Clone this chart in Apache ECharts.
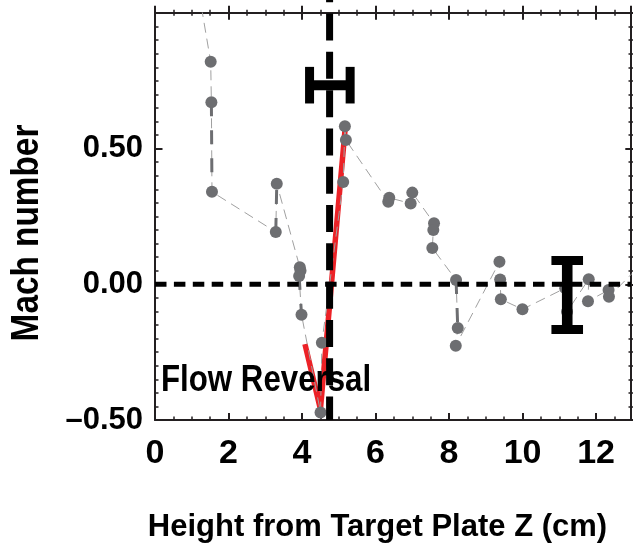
<!DOCTYPE html>
<html>
<head>
<meta charset="utf-8">
<script src="https://cdn.jsdelivr.net/npm/echarts@6/dist/echarts.min.js"></script>
<style>
  html, body { margin: 0; padding: 0; background: #fff; }
  #chart { width: 633px; height: 547px; }
</style>
</head>
<body>
<div id="chart"></div>
<script>
// Height above the target plate (cm) and measured Mach number along the probe trace
const grayZ = [1.19, 1.515, 1.534, 1.550, 3.286, 3.313, 3.940, 3.959, 3.921, 3.986, 4.504, 4.540,
  5.120, 5.166, 5.193, 6.346, 6.373, 6.956, 7.000, 7.591, 7.572, 7.545, 8.191, 8.237, 8.183,
  9.371, 9.390, 9.409, 9.997, 11.16, 11.21, 11.80, 11.78, 12.34, 12.35, 13.20];
const grayM = [1.08, 0.820, 0.671, 0.341, 0.193, 0.371, 0.063, 0.050, 0.031, -0.112, -0.472, -0.215,
  0.377, 0.583, 0.532, 0.304, 0.319, 0.298, 0.338, 0.225, 0.200, 0.134, 0.016, -0.161, -0.226,
  0.083, 0.018, -0.055, -0.092, -0.014, -0.101, 0.019, -0.062, -0.021, -0.046, 0.07];
// repeated measurements at the same height, joined by heavier dashes
const linkPairs = [[2, 3], [4, 5], [8, 9], [22, 23]];

// flow-reversal fit
const redZ = [4.08, 4.50, 5.17];
const redM = [-0.22, -0.46, 0.57];

// sonic-point position and zero-Mach reference
const sonicZ = 4.75;
const zeroM = 0;

// representative error bars
const hBarZ = [4.757], hBarM = [0.734], hBarErr = [0.552];
const vBarZ = [11.215], vBarM = [-0.0395], vBarErr = [0.127];

// axis ranges
const xMin = 0, xMax = 12.95, xStep = 2, xMinor = 0.5;
const yMin = -0.5, yMax = 1.0, yStep = 0.5, yMinor = 0.05;

const xTitle = 'Height from Target Plate Z (cm)';
const yTitle = 'Mach number';
const note = 'Flow Reversal';

const FONT = "'Liberation Sans', Arial, Helvetica, sans-serif";
const INK = '#231f20';

const zip = (a, b) => a.map((v, i) => [v, b[i]]);

const chart = echarts.init(document.getElementById('chart'), null, { renderer: 'canvas' });

// extra axes that only carry tick marks (frame ticks, minor ticks)
function tickAxis(base, extra) {
  return Object.assign({
    type: 'value', min: base.min, max: base.max, interval: base.step,
    axisLine: { show: false, onZero: false }, axisLabel: { show: false }, splitLine: { show: false }
  }, extra);
}
const frameLine = { show: true, onZero: false, lineStyle: { color: INK, width: 2 } };

const xBase = { min: xMin, max: xMax, step: xStep };
const xMinorBase = { min: xMin, max: xMax, step: xMinor };
const yBase = { min: yMin, max: yMax, step: yStep };
const yMinorBase = { min: yMin, max: yMax, step: yMinor };

function errorBar(horizontal) {
  return function (params, api) {
    const z = api.value(0), m = api.value(1), e = api.value(2);
    const a = horizontal ? api.coord([z - e, m]) : api.coord([z, m + e]);
    const b = horizontal ? api.coord([z + e, m]) : api.coord([z, m - e]);
    const st = { fill: '#000' };
    if (horizontal) {
      return { type: 'group', children: [
        { type: 'rect', shape: { x: a[0], y: a[1] - 5, width: b[0] - a[0], height: 10 }, style: st },
        { type: 'rect', shape: { x: a[0] - 4.5, y: a[1] - 18.3, width: 9, height: 36.6 }, style: st },
        { type: 'rect', shape: { x: b[0] - 4.5, y: b[1] - 18.3, width: 9, height: 36.6 }, style: st }
      ] };
    }
    return { type: 'group', children: [
      { type: 'rect', shape: { x: a[0] - 5.3, y: a[1], width: 10.6, height: b[1] - a[1] }, style: st },
      { type: 'rect', shape: { x: a[0] - 15.8, y: a[1] - 4.5, width: 31.6, height: 9 }, style: st },
      { type: 'rect', shape: { x: b[0] - 15.8, y: b[1] - 4.5, width: 31.6, height: 9 }, style: st }
    ] };
  };
}

function label(text, x, y, size, align, extra) {
  return Object.assign({
    type: 'text', x: x, y: y, z: 10,
    style: { text: text, fill: '#000', font: 'bold ' + size + 'px ' + FONT,
      align: align, verticalAlign: 'middle', textAlign: align, textVerticalAlign: 'middle' }
  }, extra || {});
}

const option = {
  animation: false,
  backgroundColor: '#fff',
  grid: { left: 155, right: 2, top: 13, bottom: 127, containLabel: false },
  xAxis: [
    {
      type: 'value', position: 'bottom', min: xMin, max: xMax, interval: xStep,
      axisLine: frameLine,
      axisTick: { show: true, inside: true, length: 7, lineStyle: { color: INK, width: 2 } },
      axisLabel: { show: true, margin: 17, color: '#000', fontFamily: FONT, fontWeight: 'bold',
        fontSize: 34, showMaxLabel: false, formatter: v => String(v) },
      splitLine: { show: false }
    },
    tickAxis(xMinorBase, { position: 'bottom',
      axisTick: { show: true, inside: true, length: 3.5, lineStyle: { color: INK, width: 1.5 } } }),
    tickAxis(xBase, { position: 'top', axisLine: frameLine, axisTick: { show: false } }),
    tickAxis(xBase, { position: 'top', offset: -6.7,
      axisTick: { show: true, inside: false, length: 14, lineStyle: { color: INK, width: 2 } } }),
    tickAxis(xMinorBase, { position: 'top', offset: -2.7,
      axisTick: { show: true, inside: false, length: 6, lineStyle: { color: INK, width: 1.5 } } })
  ],
  yAxis: [
    {
      type: 'value', position: 'left', min: yMin, max: yMax, interval: yStep,
      axisLine: frameLine,
      axisTick: { show: true, inside: true, length: 7.5, lineStyle: { color: INK, width: 2 } },
      minorTick: { show: true, splitNumber: 10, length: 3.5, lineStyle: { color: INK, width: 1.5 } },
      axisLabel: { show: true, margin: 12, color: '#000', fontFamily: FONT, fontWeight: 'bold',
        fontSize: 31, showMaxLabel: false,
        formatter: v => (v < 0 ? '\u2013' : '') + Math.abs(v).toFixed(2) },
      splitLine: { show: false }
    },
    tickAxis(yBase, { position: 'right', axisLine: frameLine, axisTick: { show: false } }),
    tickAxis(yMinorBase, { position: 'right', offset: -2.5,
      axisTick: { show: true, inside: false, length: 5, lineStyle: { color: INK, width: 1.5 } } }),
    tickAxis(yBase, { position: 'right', offset: -5.7,
      axisTick: { show: true, inside: false, length: 8.5, lineStyle: { color: INK, width: 2 } } })
  ],
  series: [
    {
      name: 'fit', type: 'line', z: 1, data: zip(redZ, redM), symbol: 'none',
      lineStyle: { color: '#ec2227', width: 5.5 }, clip: true
    },
    {
      name: 'trace', type: 'line', z: 2, data: zip(grayZ, grayM), showAllSymbol: true,
      symbol: 'circle', symbolSize: 12, clip: true,
      itemStyle: { color: '#6d6e71', borderWidth: 0 },
      lineStyle: { color: '#a0a0a0', width: 1, type: [10, 6] }
    },
    ...linkPairs.map(([i, j]) => ({
      name: 'repeat', type: 'line', z: 2, symbol: 'none', clip: true,
      data: [[grayZ[i], grayM[i]], [grayZ[j], grayM[j]]],
      lineStyle: { color: '#6d6e71', width: 3, type: [14, 14] }
    })),
    {
      name: 'zero', type: 'line', z: 3, symbol: 'none', clip: true,
      data: [[xMin, zeroM], [xMax, zeroM]],
      lineStyle: { color: '#000', width: 5, type: [11.5, 7.4] }
    },
    {
      name: 'sonic', type: 'line', z: 3, symbol: 'none', clip: false,
      data: [[sonicZ, 1.05], [sonicZ, yMin]],
      lineStyle: { color: '#000', width: 7, type: [27, 11.3], dashOffset: 24.2 }
    },
    {
      name: 'errZ', type: 'custom', z: 4, renderItem: errorBar(true),
      data: hBarZ.map((v, i) => [v, hBarM[i], hBarErr[i]])
    },
    {
      name: 'errM', type: 'custom', z: 4, renderItem: errorBar(false),
      data: vBarZ.map((v, i) => [v, vBarM[i], vBarErr[i]])
    }
  ],
  graphic: [
    label(xTitle, 377.5, 527, 31, 'center'),
    label(yTitle, 27.5, 233, 39, 'center', { rotation: Math.PI / 2, scaleX: 0.855 }),
    label(note, 161, 381, 36, 'left', { scaleX: 0.868 })
  ]
};

chart.setOption(option);
</script>
</body>
</html>
